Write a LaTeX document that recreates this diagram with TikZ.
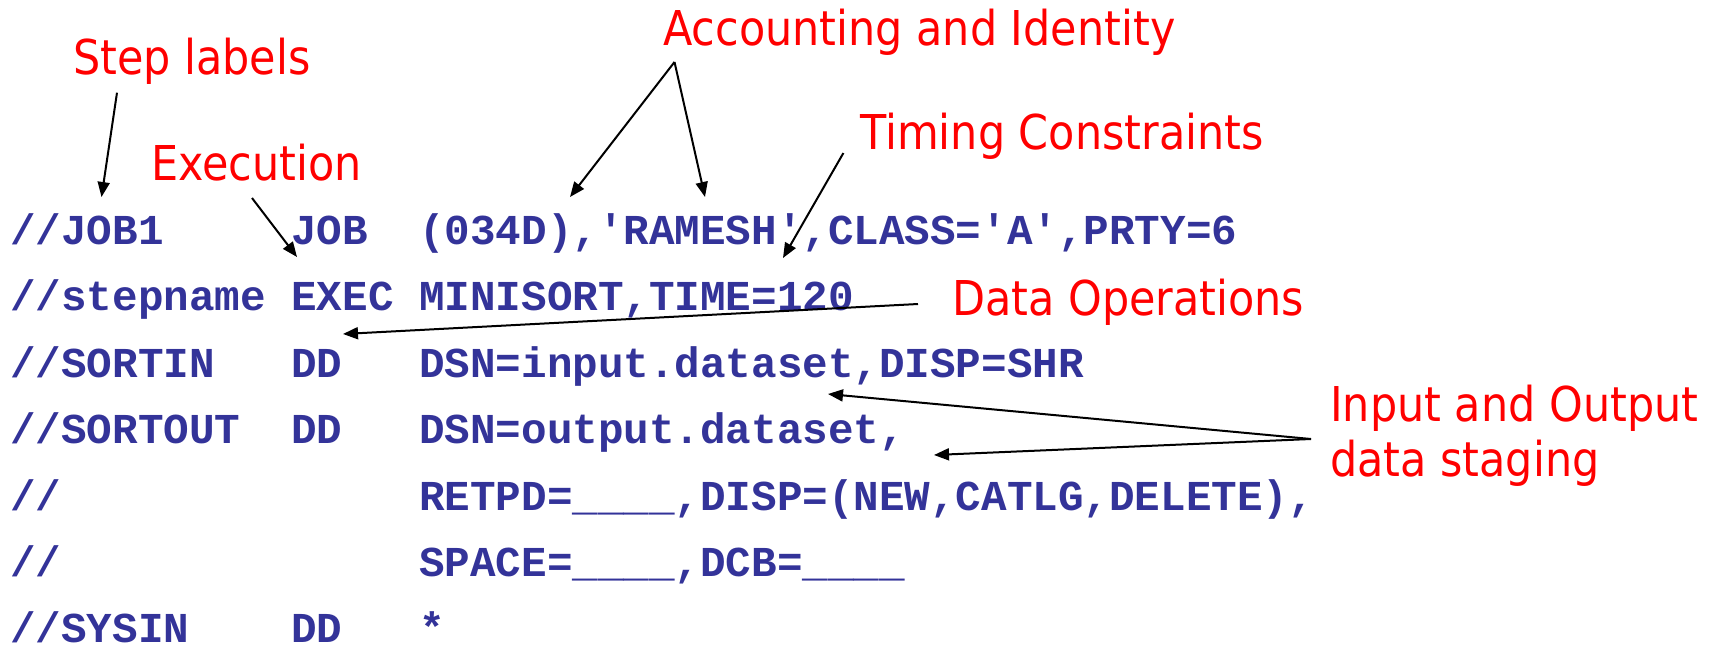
\documentclass[tikz,border=0pt]{standalone}
\usepackage{fontspec}
\usetikzlibrary{arrows.meta}
\newfontfamily\labelfont{DejaVu Sans}[FakeStretch=0.894]
\newfontfamily\codefont{Liberation Mono}[Ligatures=TeXOff]
\definecolor{codeblue}{RGB}{51,51,153}
\definecolor{notered}{RGB}{255,0,0}
\tikzset{
  lbl/.style={anchor=base west, inner sep=0pt, text=notered, align=left,
    font=\labelfont\fontsize{48}{55}\selectfont},
  code/.style={anchor=base west, inner sep=0pt, text=codeblue,
    font=\codefont\bfseries\fontsize{42.6}{50}\selectfont},
  pointer/.style={draw=black, line width=2pt, -{Triangle[length=15pt,width=12pt]}}
}
\begin{document}
\begin{tikzpicture}[x=1pt,y=-1pt]
\useasboundingbox (0,0) rectangle (1713,651);
% columns of the job stream: name field, operation field, operands
\def\ca{10}\def\cb{291.2}\def\cc{419}
% job control statements
\node[code] (j1a) at (\ca,244.5) {//JOB1};
\node[code] (j1b) at (\cb,244.5) {JOB};
\node[code] (j1c) at (\cc,244.5) {(034D),'RAMESH',CLASS='A',PRTY=6};
\node[code] (j2a) at (\ca,310.9) {//stepname};
\node[code] (j2b) at (\cb,310.9) {EXEC};
\node[code] (j2c) at (\cc,310.9) {MINISORT,TIME=120};
\node[code] (j3a) at (\ca,377.3) {//SORTIN};
\node[code] (j3b) at (\cb,377.3) {DD};
\node[code] (j3c) at (\cc,377.3) {DSN=input.dataset,DISP=SHR};
\node[code] (j4a) at (\ca,443.7) {//SORTOUT};
\node[code] (j4b) at (\cb,443.7) {DD};
\node[code] (j4c) at (\cc,443.7) {DSN=output.dataset,};
\node[code] (j5a) at (\ca,510.1) {//};
\node[code] (j5c) at (\cc,510.1) {RETPD=\_\_\_\_,DISP=(NEW,CATLG,DELETE),};
\node[code] (j6a) at (\ca,576.5) {//};
\node[code] (j6c) at (\cc,576.5) {SPACE=\_\_\_\_,DCB=\_\_\_\_};
\node[code] (j7a) at (\ca,642.9) {//SYSIN};
\node[code] (j7b) at (\cb,642.9) {DD};
\node[code] (j7c) at (\cc,642.9) {*};
% annotations (a two-line node sits on the baseline of its last line)
\node[lbl] (steplbl) at (73,74.3) {Step labels};
\node[lbl] (execlbl) at (151,180) {Execution};
\node[lbl] (acctlbl) at (663,45) {Accounting and Identity};
\node[lbl] (timelbl) at (860,149.3) {Timing Constraints};
\node[lbl] (datalbl) at (952,315) {Data Operations};
\node[lbl] (iolbl) at (1330,476.7) {Input and Output\\data staging};
% arrow ends
\coordinate (stepfrom) at (117,92.7);   \coordinate (stepto) at (101.5,197);
\coordinate (execfrom) at (252,198);    \coordinate (execto) at (297,257);
\coordinate (acctfrom) at (674.5,62);   \coordinate (acctto1) at (570,197);
                                        \coordinate (acctto2) at (705,197);
\coordinate (timefrom) at (843.4,153);  \coordinate (timeto) at (783,258);
\coordinate (datafrom) at (918,304);    \coordinate (datato) at (343,334);
\coordinate (iofrom) at (1311,439);     \coordinate (ioto1) at (828,394);
                                        \coordinate (ioto2) at (934,455);
\draw[pointer] (stepfrom) -- (stepto);
\draw[pointer] (execfrom) -- (execto);
\draw[pointer] (acctfrom) -- (acctto1);
\draw[pointer] (acctfrom) -- (acctto2);
\draw[pointer] (timefrom) -- (timeto);
\draw[pointer] (datafrom) -- (datato);
\draw[pointer] (iofrom) -- (ioto1);
\draw[pointer] (iofrom) -- (ioto2);
\end{tikzpicture}
\end{document}
